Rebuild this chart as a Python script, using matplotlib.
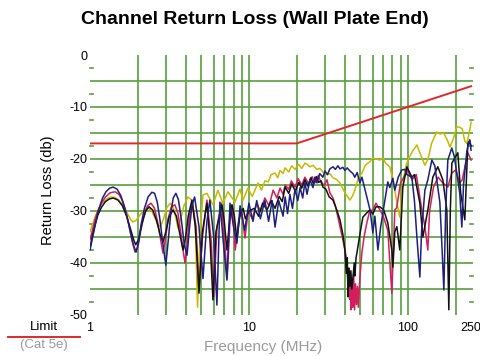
import numpy as np
import matplotlib
matplotlib.use('Agg')
import matplotlib.pyplot as plt
from matplotlib.lines import Line2D

plt.rcParams['font.family'] = ['Liberation Sans', 'DejaVu Sans']

# Cat 5e channel limit (MHz, dB)
limit_f = [1, 20, 250]
limit_db = [-17.0, -17.0, -6.0]

blue_f = [1.00, 1.04, 1.08, 1.12, 1.16, 1.20, 1.26, 1.33, 1.40, 1.48, 1.56, 1.64, 1.72, 1.80, 1.88,
          1.95, 2.02, 2.10, 2.20, 2.32, 2.45, 2.55, 2.65, 2.75, 2.88, 3.00, 3.10, 3.22, 3.34, 3.47,
          3.60, 3.75, 3.92, 4.08, 4.22, 4.38, 4.55, 4.85, 5.14, 5.44, 5.68, 6.00, 6.29, 6.57, 6.90,
          7.27, 7.60, 8.00, 8.40, 8.80, 9.40, 10.0, 10.6, 11.2, 11.8, 12.6, 13.3, 14.0, 14.6, 15.4,
          16.4, 16.9, 17.5, 18.1, 18.8, 19.5, 20.3, 21.0, 21.8, 22.5, 23.2, 24.2, 25.3, 26.0, 26.8,
          27.9, 29.2, 30.1, 31.2, 32.3, 33.8, 35.0, 36.3, 37.4, 39.0, 40.2, 41.5, 43.2, 45.1, 46.4,
          48.0, 49.9, 51.4, 52.1, 55.2, 58.0, 60.2, 62.0, 64.8, 67.5, 71.7, 74.8, 77.0, 80.5, 82.8,
          87.0, 91.7, 95.8, 98.6, 106, 110, 114, 119, 122, 128, 133.6, 141.6, 147.8, 152, 159,
          164, 168.5, 173, 178.5, 189, 196, 206, 212, 218.6, 224, 235, 245, 250]
blue_db = [-37.5, -35.0, -32.5, -30.3, -28.8, -27.5, -26.3, -25.6, -25.4, -25.8, -27.0, -29.0, -31.5, -34.2, -36.6,
           -37.9, -36.0, -32.5, -29.5, -27.3, -26.4, -26.6, -28.3, -31.5, -36.5, -40.4, -36.0, -30.5, -27.5, -26.6,
           -27.8, -31.5, -36.5, -38.5, -33.5, -29.0, -27.3, -33.0, -43.0, -32.0, -27.9, -35.0, -48.1, -28.3, -36.0,
           -43.3, -28.5, -33.0, -36.2, -29.0, -33.7, -28.5, -32.0, -28.0, -31.5, -28.0, -32.0, -28.0, -33.1, -28.0,
           -31.0, -27.3, -30.5, -26.8, -29.5, -25.8, -28.0, -25.5, -27.5, -24.5, -26.8, -24.0, -25.5, -23.5, -24.6,
           -22.8, -23.5, -22.3, -23.0, -21.9, -21.5, -22.0, -21.3, -21.9, -21.6, -22.2, -21.7, -22.3, -22.8, -23.5,
           -22.6, -24.6, -23.5, -24.2, -27.3, -30.0, -34.2, -31.0, -37.5, -33.0, -28.0, -24.4, -25.5, -23.7, -26.0,
           -23.5, -22.1, -22.0, -23.0, -23.5, -28.0, -35.0, -42.7, -34.0, -26.0, -24.0, -20.2, -21.3, -24.0, -28.3,
           -37.0, -45.2, -30.0, -20.2, -17.9, -19.5, -24.0, -26.5, -33.1, -25.0, -18.5, -16.3, -18.3]

red_f = [1.00, 1.04, 1.08, 1.12, 1.18, 1.25, 1.34, 1.44, 1.52, 1.60, 1.68, 1.76, 1.84, 1.92, 2.00,
         2.08, 2.18, 2.30, 2.42, 2.55, 2.68, 2.80, 2.88, 2.98, 3.10, 3.25, 3.42, 3.58, 3.72, 3.85,
         3.96, 4.08, 4.22, 4.40, 4.65, 4.85, 5.10, 5.44, 5.80, 6.00, 6.30, 6.70, 7.00, 7.30, 7.60,
         7.85, 8.20, 8.60, 9.00, 9.44, 9.90, 10.5, 11.2, 11.8, 12.6, 13.4, 14.2, 15.0, 15.7, 16.4,
         16.9, 17.8, 18.5, 19.5, 20.4, 21.5, 22.5, 23.8, 25.0, 26.0, 27.3, 28.5, 29.8, 31.0, 32.3,
         33.8, 35.0, 36.5, 37.4, 39.0, 41.3, 42.0, 42.5, 43.0, 43.5, 44.0, 44.5, 45.0, 45.6, 46.2,
         46.8, 47.5, 48.2, 48.8, 49.9, 51.4, 53.0, 55.2, 57.5, 60.2, 63.0, 66.7, 70.0, 74.8, 79.3,
         82.8, 85.0, 90.0, 100, 106, 113, 122.5, 128, 133.6, 137, 145, 155, 166, 178.5, 189,
         200, 212, 220, 238.5, 250]
red_db = [-35.5, -33.5, -31.5, -30.0, -28.5, -27.3, -26.5, -26.3, -26.8, -28.0, -30.0, -32.8, -35.8, -37.9, -37.0,
          -34.0, -31.0, -29.0, -28.5, -29.5, -32.5, -36.0, -38.1, -35.5, -31.5, -29.2, -28.8, -30.5, -34.0, -37.5,
          -40.0, -36.5, -31.0, -28.3, -33.0, -45.0, -35.0, -27.9, -36.0, -46.5, -33.0, -28.5, -35.0, -43.0, -32.0,
          -29.0, -37.5, -32.0, -30.0, -35.2, -30.0, -31.5, -28.5, -30.0, -27.5, -29.0, -26.0, -27.5, -25.6, -26.8,
          -25.0, -25.8, -24.2, -25.4, -23.8, -25.0, -23.5, -24.8, -23.4, -24.6, -23.2, -24.6, -25.0, -24.0, -26.5,
          -27.5, -29.0, -31.5, -33.0, -35.5, -39.4, -44.0, -41.0, -47.0, -43.0, -49.0, -44.0, -48.5, -42.0, -49.0,
          -44.0, -48.0, -44.5, -48.5, -42.9, -38.0, -35.0, -32.3, -30.0, -29.8, -28.5, -29.8, -31.0, -33.7, -45.8,
          -29.8, -29.4, -24.6, -22.1, -24.0, -23.0, -29.8, -33.0, -37.5, -30.0, -25.4, -23.5, -24.6, -25.4, -22.7,
          -22.1, -24.6, -24.0, -18.8, -20.2]

black_f = [1.00, 1.04, 1.08, 1.12, 1.18, 1.25, 1.32, 1.40, 1.50, 1.60, 1.70, 1.80, 1.88, 1.94, 2.02,
           2.12, 2.24, 2.35, 2.48, 2.62, 2.76, 2.88, 3.00, 3.14, 3.33, 3.50, 3.65, 3.85, 4.00, 4.15,
           4.38, 4.60, 4.85, 5.10, 5.44, 5.70, 5.94, 6.20, 6.77, 7.00, 7.27, 7.60, 7.82, 8.10, 8.40,
           8.80, 9.20, 9.50, 10.0, 10.8, 11.5, 12.2, 13.0, 13.8, 14.6, 15.5, 16.2, 16.9, 17.8, 18.6,
           19.6, 20.6, 21.5, 22.5, 23.5, 24.5, 25.5, 26.5, 27.5, 28.5, 29.2, 30.5, 32.0, 33.8, 35.7,
           37.4, 39.0, 40.2, 41.0, 41.6, 42.0, 42.6, 43.2, 43.8, 44.4, 45.1, 46.0, 46.4, 47.2, 47.8,
           49.9, 52.1, 55.0, 57.7, 60.2, 63.0, 66.7, 70.5, 74.8, 79.3, 80.5, 82.8, 85.3, 89.0, 93.0,
           98.6, 106, 110, 119, 124.3, 133.6, 143.6, 154.4, 166, 175.9, 181.1, 185, 189.2, 206.3, 215,
           228.3, 238.5, 245, 250]
black_db = [-37.1, -34.5, -32.5, -30.8, -29.3, -28.2, -27.7, -27.5, -27.9, -29.0, -31.0, -33.5, -35.5, -36.5, -35.5,
            -32.5, -30.0, -29.2, -29.8, -31.8, -34.5, -36.0, -34.0, -31.2, -29.8, -31.0, -34.0, -37.5, -35.0, -31.0,
            -27.9, -33.0, -45.8, -34.0, -28.5, -36.0, -47.1, -34.0, -28.8, -32.0, -37.5, -31.0, -28.8, -31.0, -35.6,
            -30.5, -29.5, -31.5, -30.0, -29.5, -31.0, -28.5, -29.8, -28.0, -29.5, -27.2, -28.2, -25.4, -26.6, -24.8,
            -26.2, -24.5, -25.6, -24.0, -25.2, -23.6, -24.8, -23.4, -24.5, -24.2, -25.4, -25.8, -27.3, -27.9, -29.8,
            -31.7, -34.5, -37.5, -42.0, -39.0, -46.5, -41.0, -44.5, -41.5, -45.0, -42.9, -40.0, -42.5, -39.0, -38.1,
            -34.5, -31.2, -30.4, -29.8, -30.6, -29.2, -29.2, -29.8, -32.3, -37.5, -40.8, -34.0, -33.0, -37.5, -25.4,
            -21.5, -23.5, -23.0, -28.5, -35.0, -29.8, -23.5, -21.5, -24.0, -29.8, -49.0, -30.0, -20.8, -18.8, -26.5,
            -31.7, -17.0, -16.5, -17.5]

yellow_f = [1.00, 1.04, 1.08, 1.13, 1.19, 1.27, 1.35, 1.44, 1.52, 1.62, 1.72, 1.80, 1.86, 1.95, 2.06,
            2.20, 2.32, 2.45, 2.58, 2.70, 2.78, 2.90, 3.05, 3.20, 3.35, 3.48, 3.58, 3.72, 3.90, 4.13,
            4.40, 4.60, 4.75, 4.95, 5.14, 5.44, 5.94, 6.38, 6.86, 7.38, 8.17, 8.78, 9.17, 9.86, 10.5,
            11.4, 12.0, 12.6, 13.2, 13.8, 14.6, 15.2, 15.7, 16.4, 16.9, 17.8, 18.6, 19.5, 20.5, 21.5,
            22.5, 23.2, 24.2, 25.3, 26.8, 28.0, 29.2, 31.0, 32.3, 33.8, 35.8, 37.4, 40.2, 43.2, 45.0,
            46.4, 49.0, 51.4, 54.0, 57.7, 60.2, 63.0, 66.7, 69.6, 72.5, 77.0, 80.5, 82.8, 86.0, 89.0,
            92.0, 96.0, 100, 107, 114, 119, 128, 134, 141, 152, 160, 168, 178, 184, 194,
            203, 212, 220, 228, 235, 245, 250]
yellow_db = [-34.0, -32.5, -31.0, -29.7, -28.5, -27.7, -27.3, -27.4, -27.9, -29.0, -30.5, -31.6, -32.1, -31.8, -30.8,
             -29.8, -29.4, -30.0, -31.5, -32.8, -33.0, -31.5, -29.3, -28.5, -29.5, -31.5, -33.3, -31.5, -29.0, -27.3,
             -28.0, -33.0, -48.5, -33.0, -26.9, -26.6, -28.8, -26.0, -28.5, -26.3, -28.3, -25.8, -27.9, -25.6, -27.2,
             -24.6, -26.0, -24.2, -24.4, -23.0, -22.7, -23.6, -22.2, -22.8, -21.7, -22.5, -21.3, -22.0, -21.0, -21.8,
             -20.8, -21.0, -21.5, -21.2, -22.0, -21.8, -22.5, -23.0, -22.8, -23.6, -24.0, -24.6, -26.5, -27.9, -27.0,
             -26.0, -23.5, -22.7, -21.2, -20.5, -19.8, -20.0, -20.2, -19.8, -20.8, -21.5, -24.0, -26.0, -29.0, -31.2,
             -26.0, -22.0, -20.2, -18.5, -17.3, -18.8, -21.2, -20.0, -17.0, -14.8, -15.2, -15.0, -16.5, -17.7, -16.0,
             -13.8, -13.9, -14.2, -16.5, -17.0, -14.5, -12.9]

grid_green = '#55a03c'

fig = plt.figure(figsize=(4.8, 3.56), dpi=100)
ax = fig.add_axes([0.1875, 0.1152, 0.7979, 0.7303])
ax.set_xscale('log')
ax.set_xlim(1, 257)
ax.set_ylim(-50, 0)

# grid lines, drawn by hand so the 2.5 dB dashes can sit at the edges
for f in [2, 3, 4, 5, 6, 7, 8, 9, 10, 20, 30, 40, 50, 60, 70, 80, 90, 100, 200]:
    ax.axvline(f, color=grid_green, lw=1.2, zorder=1)
for d in range(-45, 0, 5):
    ax.axhline(d, color=grid_green, lw=1.2, zorder=1)
for d in np.arange(-47.5, 0, 5):
    ax.plot([1, 1.04], [d, d], color=grid_green, lw=1.2, zorder=1, clip_on=False)
    ax.plot([246, 257], [d, d], color=grid_green, lw=1.2, zorder=1, clip_on=False)

ax.plot(limit_f, limit_db, color='#e02828', lw=1.4, zorder=3)
ax.plot(yellow_f, yellow_db, color='#c9b800', lw=1.1, zorder=4)
ax.plot(red_f, red_db, color='#d21e5a', lw=1.1, zorder=5)
ax.plot(black_f, black_db, color='#111111', lw=1.1, zorder=6)
ax.plot(blue_f, blue_db, color='#1c1f7e', lw=1.1, zorder=7)

for s in ax.spines.values():
    s.set_visible(False)
ax.tick_params(length=0)
ax.set_yticks([0, -10, -20, -30, -40, -50])
ax.set_yticklabels(['0', '-10', '-20', '-30', '-40', '-50'], fontsize=9)
ax.tick_params(axis='y', pad=2)
ax.set_xticks([1, 10, 100, 250])
ax.set_xticklabels(['1', '10', '100', '250'], fontsize=9)
ax.xaxis.set_minor_locator(matplotlib.ticker.NullLocator())
ax.tick_params(axis='x', pad=5)

fig.text(0.53, 0.944, 'Channel Return Loss (Wall Plate End)', ha='center', va='center',
         fontsize=14, fontweight='bold')
fig.text(0.1, 0.466, 'Return Loss (db)', rotation=90, ha='center', va='center', fontsize=10.5)
fig.text(0.548, 0.025, 'Frequency (MHz)', ha='center', va='center', fontsize=11, color='#9a9a9a')

# limit key in the lower left corner
fig.text(0.092, 0.082, 'Limit', ha='center', va='center', fontsize=9.5)
fig.add_artist(Line2D([0.017, 0.167], [0.053, 0.053], color='#e02828', lw=1.4))
fig.text(0.092, 0.03, '(Cat 5e)', ha='center', va='center', fontsize=9.5, color='#9a9a9a')

fig.savefig('out.png', dpi=100)
